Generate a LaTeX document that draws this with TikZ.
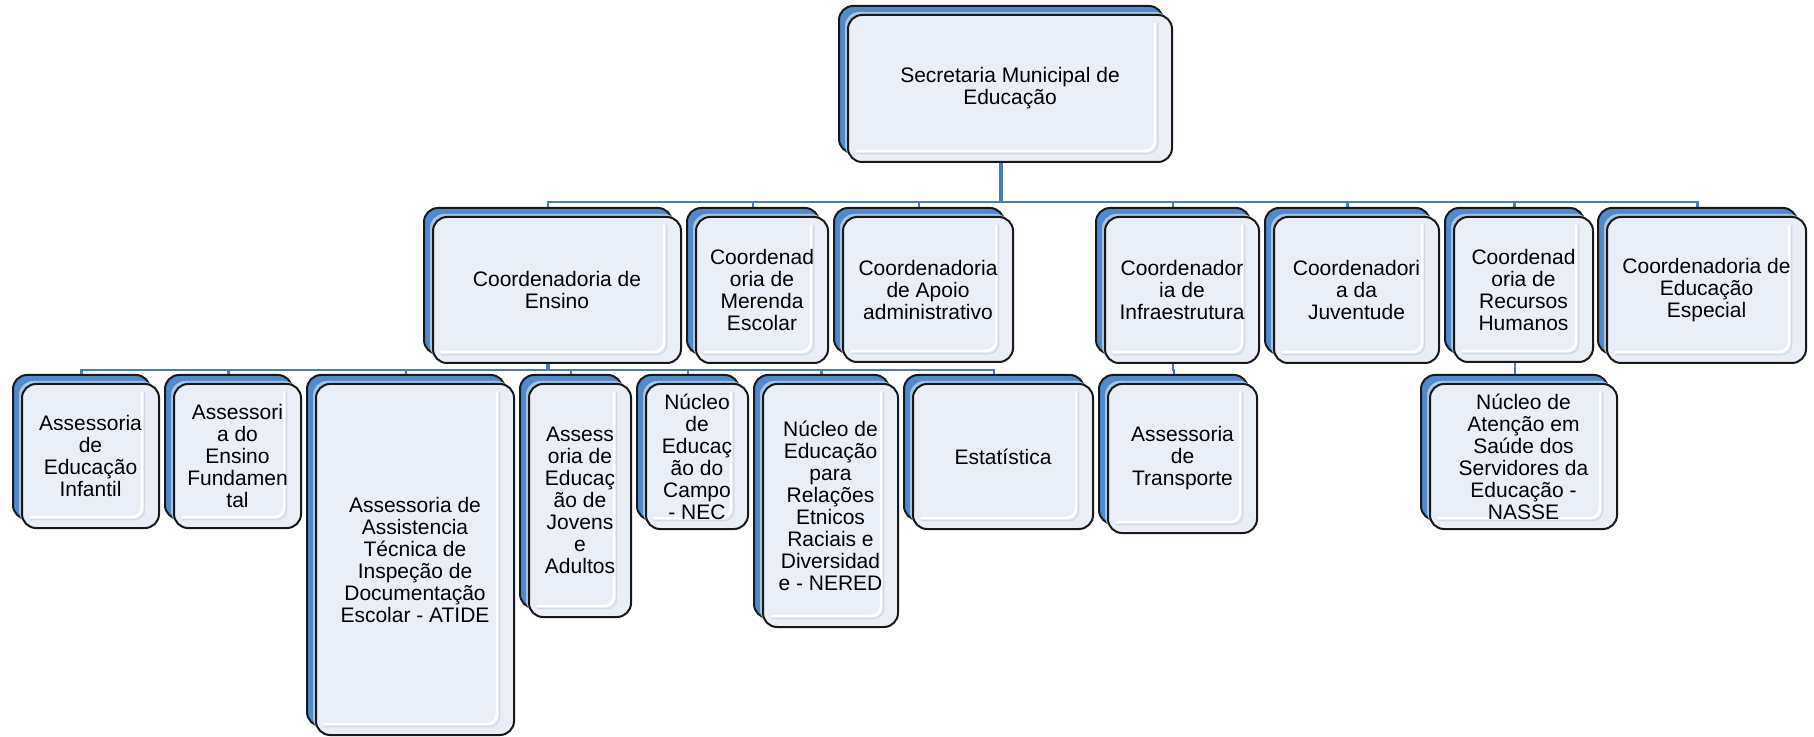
\documentclass[tikz,border=0pt]{standalone}
\usepackage{fontspec}
\setmainfont{Liberation Sans}
\usetikzlibrary{backgrounds}

\definecolor{backblue}{RGB}{84,137,200}
\definecolor{glowblue}{RGB}{160,197,236}
\definecolor{paneface}{RGB}{234,239,247}
\definecolor{panebevel}{RGB}{212,218,226}
\definecolor{paneedge}{RGB}{25,25,25}
\definecolor{linkblue}{RGB}{74,126,187}

\tikzset{
  backbox/.style={draw=paneedge, line width=1pt, fill=backblue, rounded corners=7pt, inner sep=0pt},
  glowbox/.style={fill=glowblue, rounded corners=7pt, inner sep=0pt},
  frontbox/.style={draw=paneedge, line width=1pt, fill=paneface, rounded corners=7pt, inner sep=0pt,
    path picture={
      \draw[panebevel, line width=0.7pt, rounded corners=5pt]
        ([xshift=-7.2pt,yshift=-4pt]path picture bounding box.north east) --
        ([xshift=-7.2pt,yshift=4.2pt]path picture bounding box.south east) --
        ([xshift=4pt,yshift=4.2pt]path picture bounding box.south west);
      \draw[white, line width=1.2pt, rounded corners=5pt]
        ([xshift=-8.5pt,yshift=-4pt]path picture bounding box.north east) --
        ([xshift=-8.5pt,yshift=5.5pt]path picture bounding box.south east) --
        ([xshift=4pt,yshift=5.5pt]path picture bounding box.south west);}},
  boxtext/.style={align=center, font=\fontsize{10.5pt}{11pt}\selectfont, inner sep=0pt},
  link/.style={draw=linkblue, line width=1pt},
  trunk/.style={draw=linkblue, line width=2.2pt},
}

% #1 name, #2 left, #3 top, #4 right, #5 bottom (pixels of the front pane), #6 text
\newcommand\orgbox[6]{%
  \pgfmathsetmacro\obcx{(#2+#4)/2}%
  \pgfmathsetmacro\obcy{(#3+#5)/2}%
  \pgfmathsetmacro\obw{(#4-#2)/2}%
  \pgfmathsetmacro\obh{(#5-#3)/2}%
  \node[backbox, minimum width=\obw pt, minimum height=\obh pt] (#1B) at (\obcx-9,\obcy-9) {};
  \node[glowbox, minimum width=\obw pt, minimum height=\obh pt] (#1G) at (\obcx-3,\obcy-3) {};
  \node[frontbox, minimum width=\obw pt, minimum height=\obh pt] (#1) at (\obcx,\obcy) {};
  \node[boxtext] (#1T) at (#1.center) {#6};
}

\begin{document}
\begin{tikzpicture}[x=0.5pt, y=-0.5pt]
\useasboundingbox (0,0) rectangle (1814,737);

% top level
\orgbox{sec}{848}{15}{1172}{162}{Secretaria Municipal de\\Educação}

% coordinations
\orgbox{ensino}{433}{217}{681}{363}{Coordenadoria de\\Ensino}
\orgbox{merenda}{696}{217}{828}{363}{Coordenad\\oria de\\Merenda\\Escolar}
\orgbox{apoio}{843}{217}{1013}{362}{Coordenadoria\\de Apoio\\administrativo}
\orgbox{infra}{1105}{217}{1259}{363}{Coordenador\\ia de\\Infraestrutura}
\orgbox{juventude}{1274}{217}{1439}{363}{Coordenadori\\a da\\Juventude}
\orgbox{rh}{1454}{217}{1593}{362}{Coordenad\\oria de\\Recursos\\Humanos}
\orgbox{especial}{1607}{217}{1806}{363}{Coordenadoria de\\Educação\\Especial}

% units below
\orgbox{infantil}{22}{384}{159}{528}{Assessoria\\de\\Educação\\Infantil}
\orgbox{fundamental}{174}{384}{301}{528}{Assessori\\a do\\Ensino\\Fundamen\\tal}
\orgbox{atide}{316}{384}{514}{735}{Assessoria de\\Assistencia\\Técnica de\\Inspeção de\\Documentação\\Escolar - ATIDE}
\orgbox{eja}{529}{384}{631}{617}{Assess\\oria de\\Educaç\\ão de\\Jovens\\e\\Adultos}
\orgbox{nec}{646}{384}{748}{529}{Núcleo\\de\\Educaç\\ão do\\Campo\\- NEC}
\orgbox{nered}{763}{384}{898}{627}{Núcleo de\\Educação\\para\\Relações\\Etnicos\\Raciais e\\Diversidad\\e - NERED}
\orgbox{estat}{913}{384}{1093}{529}{Estatística}
\orgbox{transp}{1108}{384}{1257}{533}{Assessoria\\de\\Transporte}
\orgbox{nasse}{1430}{384}{1617}{529}{Núcleo de\\Atenção em\\Saúde dos\\Servidores da\\Educação -\\NASSE}

% connectors, behind the panes
\begin{pgfonlayer}{background}
  \coordinate (barA) at (0,202);
  \coordinate (barB) at (0,370);
  \foreach \nm in {ensino,merenda,apoio,infra,juventude,rh,especial}
    \draw[link, line width=1.4pt] (secB.south) |- (\nm B.north |- barA) -- (\nm B.north);
  \draw[trunk] (secB.south) -- (secB.south |- barA);
  \foreach \nm in {infantil,fundamental,atide,eja,nec,nered,estat}
    \draw[link, line width=1.2pt] (ensinoB.south) |- (\nm B.north |- barB) -- (\nm B.north);
  \draw[trunk] (ensinoB.south) -- (ensinoB.south |- barB);
  \draw[link] (infraB.south) |- (transpB.north |- barB) -- (transpB.north);
  \draw[link] (rhB.south) |- (nasseB.north |- barB) -- (nasseB.north);
\end{pgfonlayer}
\end{tikzpicture}
\end{document}
